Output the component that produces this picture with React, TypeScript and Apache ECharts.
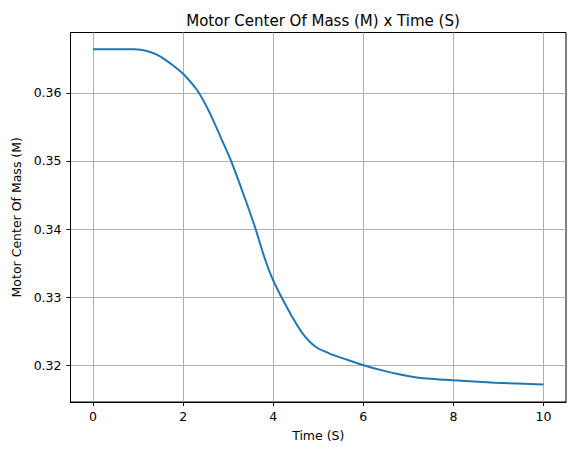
import React, { useEffect, useRef } from "react";
import * as echarts from "echarts";

const timeS = [0, 0.5, 0.9, 1.1, 1.25, 1.4, 1.55, 1.8, 2.0, 2.32, 2.58, 2.91, 3.08, 3.36, 3.61, 3.8, 3.98, 4.2, 4.42, 4.65, 4.94, 5.24, 5.61, 5.97, 6.42, 6.79, 7.23, 8.0, 8.92, 10.0];
const centerOfMass = [0.36641, 0.36641, 0.36640, 0.36628, 0.36603, 0.36565, 0.36510, 0.36390, 0.36280, 0.36030, 0.35720, 0.35235, 0.34975, 0.34474, 0.34000, 0.33594, 0.33277, 0.32980, 0.32713, 0.32470, 0.32273, 0.32176, 0.32088, 0.32009, 0.31925, 0.31868, 0.31818, 0.31780, 0.31745, 0.31718];
const xTicks = [0, 2, 4, 6, 8, 10];
const yTicks = [0.32, 0.33, 0.34, 0.35, 0.36];

const FONT = "DejaVu Sans";

export default function App() {
  const ref = useRef<HTMLDivElement>(null);
  useEffect(() => {
    if (!ref.current) return;
    const chart = echarts.init(ref.current, null, { renderer: "svg" });
    const data = timeS.map((t, i) => [t, centerOfMass[i]]);
    chart.setOption({
      animation: false,
      backgroundColor: "#ffffff",
      title: {
        text: "Motor Center Of Mass (M) x Time (S)",
        left: 318,
        top: 8,
        textAlign: "center",
        textStyle: { fontFamily: FONT, fontSize: 15, fontWeight: "normal", color: "#000" },
      },
      grid: {
        left: 70.5,
        top: 32.5,
        right: 10,
        bottom: 53,
        show: true,
        borderColor: "#000",
        borderWidth: 1,
        backgroundColor: "transparent",
      },
      xAxis: {
        type: "value",
        min: -0.5,
        max: 10.5,
        name: "Time (S)",
        nameLocation: "middle",
        nameGap: 27,
        nameTextStyle: { fontFamily: FONT, fontSize: 12.5, color: "#000" },
        axisLine: { show: true, onZero: false, lineStyle: { color: "#000", width: 1 } },
        axisTick: { show: true, length: 4, customValues: xTicks, lineStyle: { color: "#000" } },
        axisLabel: {
          customValues: xTicks,
          margin: 8,
          fontFamily: FONT,
          fontSize: 12.5,
          color: "#000",
          formatter: (v: number) => String(v),
        },
        splitLine: { show: true, lineStyle: { color: "#b0b0b0", width: 1 } },
      },
      yAxis: {
        type: "value",
        min: 0.31461,
        max: 0.36886,
        name: "Motor Center Of Mass (M)",
        nameLocation: "middle",
        nameGap: 47,
        nameTextStyle: { fontFamily: FONT, fontSize: 12.5, color: "#000" },
        axisLine: { show: true, onZero: false, lineStyle: { color: "#000", width: 1 } },
        axisTick: { show: true, length: 4, customValues: yTicks, lineStyle: { color: "#000" } },
        axisLabel: {
          customValues: yTicks,
          margin: 9,
          fontFamily: FONT,
          fontSize: 12.5,
          color: "#000",
          formatter: (v: number) => v.toFixed(2),
        },
        splitLine: { show: true, lineStyle: { color: "#b0b0b0", width: 1 } },
      },
      series: [
        {
          type: "line",
          data,
          showSymbol: false,
          smooth: 0.25,
          lineStyle: { color: "#1f77b4", width: 2 },
          itemStyle: { color: "#1f77b4" },
        },
      ],
    });
    return () => chart.dispose();
  }, []);
  return <div ref={ref} style={{ position: "absolute", left: 0, top: 0, width: 576, height: 455 }} />;
}
